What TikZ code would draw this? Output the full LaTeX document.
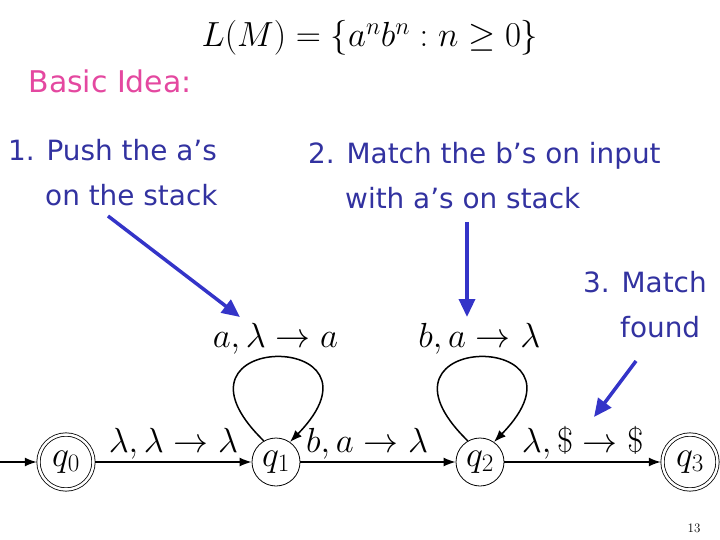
\RequirePackage{fix-cm}
\documentclass[tikz,border=0pt]{standalone}
\usepackage{fontspec}
\newfontfamily\notefont{DejaVu Sans}
\usetikzlibrary{arrows.meta}
\definecolor{notepink}{RGB}{228,72,160}
\definecolor{noteblue}{RGB}{50,50,160}
\definecolor{pointer}{RGB}{52,52,200}

\begin{document}
\begin{tikzpicture}[
  x=1bp, y=-1bp,
  state/.style={circle, draw, line width=0.8bp, minimum size=48bp, inner sep=0pt,
    font=\fontsize{36}{36}\selectfont},
  accept/.style={state, double, double distance=2.5bp, minimum size=55bp, outer sep=1.7bp},
  trans/.style={-{Latex[length=12bp,width=9bp]}, line width=1.5bp},
  lbl/.style={font=\fontsize{35}{35}\selectfont, inner sep=2bp},
  note/.style={font=\notefont\fontsize{28}{45}\selectfont, text=noteblue,
    align=left, inner sep=0pt, anchor=north west},
  hint/.style={-{Triangle[length=18bp,width=16bp]}, line width=3.5bp, pointer},
]
\useasboundingbox (0,0) rectangle (720,540);

% ===== language and notes ======================================================
\node (lang) at (370,38) {\fontsize{35}{35}\selectfont $L(M)=\{a^nb^n : n\geq 0\}$};
\node (idea) [anchor=base west, text=notepink, font=\notefont\fontsize{30}{30}\selectfont]
  at (25,93) {Basic Idea:};

\node (push)  [note] at (8,139)   {1. Push the a’s\\\hspace*{37bp}on the stack};
\node (match) [note] at (308,142) {2. Match the b’s on input\\\hspace*{37bp}with a’s on stack};
\node (found) [note] at (583,271) {3. Match\\\hspace*{37bp}found};

% ===== states ==================================================================
\node[accept] (q0) at (66,462)  {$q_0$};
\node[state]  (q1) at (276,462) {$q_1$};
\node[state]  (q2) at (480,462) {$q_2$};
\node[accept] (q3) at (690,462) {$q_3$};

\coordinate (start) at (0,462);

% ===== transitions =============================================================
\draw[trans] (start) -- (q0);
\draw[trans] (q0) -- (q1) node[lbl, midway, above] {$\lambda,\lambda\rightarrow\lambda$};
\draw[trans] (q1) -- (q2) node[lbl, pos=0.43, above] {$b,a\rightarrow\lambda$};
\draw[trans] (q2) -- (q3) node[lbl, midway, above] {$\lambda,\$\rightarrow\$$};

% loops
\draw[trans] (q1.120) .. controls +(-114,-111) and +(110,-113) .. (q1.55)
  node[lbl, midway, above] {$a,\lambda\rightarrow a$};
\draw[trans] (q2.120) .. controls +(-114,-111) and +(110,-113) .. (q2.55)
  node[lbl, midway, above] {$b,a\rightarrow\lambda$};

% ===== pointers ================================================================
\coordinate (h1s) at (108,216); \coordinate (h1e) at (240,317);
\coordinate (h2s) at (467,222); \coordinate (h2e) at (467,317);
\coordinate (h3s) at (636,361); \coordinate (h3e) at (594,417);
\draw[hint] (h1s) -- (h1e);
\draw[hint] (h2s) -- (h2e);
\draw[hint] (h3s) -- (h3e);

% page number
\node (page) [anchor=base, font=\fontsize{13}{13}\selectfont] at (694,532) {13};

\end{tikzpicture}
\end{document}
